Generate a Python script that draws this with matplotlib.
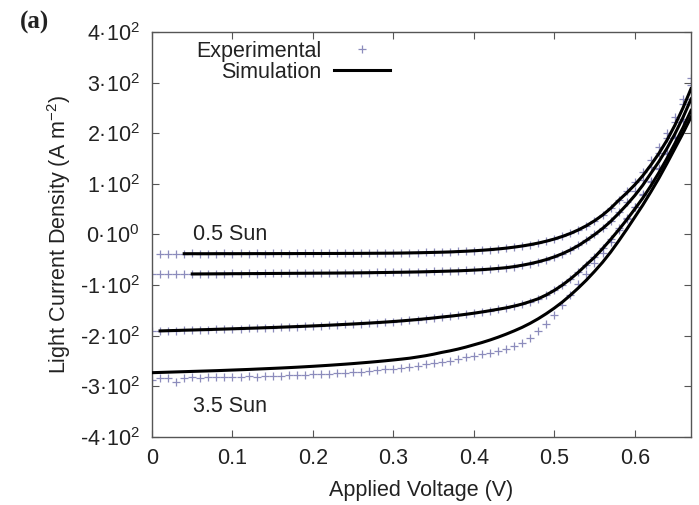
import matplotlib
matplotlib.use('Agg')
import matplotlib.pyplot as plt

# applied voltage grid (V) shared by all series; every series ends at 0.67 V
voltage = [0.00, 0.01, 0.02, 0.03, 0.04, 0.05, 0.06, 0.07, 0.08, 0.09,
           0.10, 0.11, 0.12, 0.13, 0.14, 0.15, 0.16, 0.17, 0.18, 0.19,
           0.20, 0.21, 0.22, 0.23, 0.24, 0.25, 0.26, 0.27, 0.28, 0.29,
           0.30, 0.31, 0.32, 0.33, 0.34, 0.35, 0.36, 0.37, 0.38, 0.39,
           0.40, 0.41, 0.42, 0.43, 0.44, 0.45, 0.46, 0.47, 0.48, 0.49,
           0.50, 0.51, 0.52, 0.53, 0.54, 0.55, 0.56, 0.57, 0.58, 0.59,
           0.60, 0.61, 0.62, 0.63, 0.64, 0.65, 0.66, 0.67]

# simulation, light current density (A m-2)
sim_05sun = [-38.0, -38.0, -38.0, -38.0, -37.9, -37.9, -37.9, -37.9, -37.8, -37.8,
             -37.8, -37.8, -37.7, -37.7, -37.7, -37.6, -37.6, -37.6, -37.5, -37.5,
             -37.4, -37.4, -37.3, -37.2, -37.1, -37.0, -36.9, -36.7, -36.4, -36.1,
             -35.8, -35.4, -35.0, -34.5, -33.8, -33.1, -32.2, -31.2, -30.0, -28.6,
             -27.0, -25.0, -22.8, -20.1, -17.0, -13.3, -9.0, -3.9, 2.0, 9.1,
             17.3, 27.0, 38.3, 51.6, 67.3, 82.0, 98.0, 116.0, 137.0, 160.0,
             186.0, 216.0, 250.0, 288.0]
sim_1sun = [-78.0, -77.9, -77.8, -77.7, -77.6, -77.5, -77.4, -77.3, -77.2, -77.1,
            -77.0, -76.9, -76.8, -76.7, -76.6, -76.5, -76.4, -76.3, -76.2, -76.0,
            -75.9, -75.7, -75.5, -75.3, -75.1, -74.8, -74.6, -74.3, -74.0, -73.6,
            -73.2, -72.8, -72.3, -71.8, -71.2, -70.4, -69.5, -68.4, -67.1, -65.6,
            -63.5, -60.8, -57.7, -54.0, -49.6, -44.3, -38.0, -30.6, -21.9, -11.5,
            -0.4, 11.8, 25.7, 41.6, 58.6, 76.8, 97.3, 120.6, 143.8, 169.8,
            198.8, 231.2, 267.4]
sim_25sun = [-190.5, -190.0, -189.6, -189.1, -188.7, -188.2, -187.8, -187.3, -186.8, -186.3,
             -185.8, -185.3, -184.8, -184.2, -183.7, -183.1, -182.5, -181.9, -181.3, -180.6,
             -179.9, -179.2, -178.4, -177.6, -176.8, -175.9, -175.0, -174.0, -173.0, -171.9,
             -170.7, -169.4, -168.0, -166.5, -164.9, -163.1, -161.5, -159.7, -157.7, -155.5,
             -153.1, -150.5, -147.8, -145.0, -141.5, -137.5, -132.5, -127.0, -119.5, -110.5,
             -100.0, -88.0, -74.5, -59.5, -45.0, -28.0, -10.0, 9.0, 29.0, 50.0,
             72.0, 96.0, 122.0, 150.0, 180.0, 211.0, 245.0]
sim_35sun = [-273.0, -272.5, -272.0, -271.5, -271.0, -270.5, -270.0, -269.5, -269.0, -268.4,
             -267.8, -267.2, -266.6, -265.9, -265.2, -264.5, -263.8, -263.0, -262.2, -261.3,
             -260.4, -259.4, -258.4, -257.3, -256.2, -255.0, -253.7, -252.4, -251.0, -249.5,
             -247.9, -246.2, -244.4, -242.0, -239.5, -236.5, -233.0, -230.0, -226.5, -222.5,
             -218.0, -213.5, -208.5, -203.0, -197.0, -190.5, -183.5, -175.5, -166.5, -156.5,
             -145.5, -133.5, -120.0, -105.5, -90.0, -73.0, -55.0, -35.0, -13.0, 10.0,
             34.0, 58.0, 84.0, 111.0, 140.0, 170.0, 200.0, 232.0]

# experimental points
exp_05sun = [-38.5, -38.0, -38.5, -38.0, -37.5, -38.0, -38.5, -38.0, -37.5,
             -38.0, -37.5, -38.0, -37.5, -38.0, -37.5, -37.5, -38.0, -37.5, -37.5,
             -37.0, -37.5, -37.5, -37.0, -37.5, -37.0, -37.0, -37.0, -36.5, -37.0,
             -36.5, -36.5, -36.0, -36.0, -35.5, -35.0, -35.0, -34.0, -33.5, -33.0,
             -32.0, -31.0, -30.0, -28.5, -27.0, -25.0, -22.5, -20.0, -17.0, -13.0,
             -9.0, -4.0, 2.0, 9.0, 17.5, 27.5, 39.0, 53.0, 69.0, 86.0,
             104.0, 124.0, 147.0, 172.0, 200.0, 232.0, 268.0, 310.0]
exp_1sun = [-78.5, -78.0, -78.5, -78.0, -78.5, -78.0, -77.5, -78.0, -77.5, -77.5,
            -77.0, -77.5, -77.0, -77.5, -77.0, -76.5, -77.0, -76.5, -76.5, -76.5,
            -76.0, -76.5, -76.0, -76.0, -75.5, -76.0, -75.5, -75.5, -75.0, -75.0,
            -74.5, -74.5, -74.0, -74.0, -73.5, -73.0, -72.5, -72.0, -71.5, -71.0,
            -70.0, -69.5, -68.0, -67.0, -65.5, -63.5, -60.5, -57.5, -54.0, -49.5,
            -44.0, -38.0, -30.5, -21.5, -11.0, 0.5, 13.0, 27.5, 45.0, 64.0,
            85.0, 108.0, 133.0, 160.0, 190.0, 222.0, 258.0, 296.0]
exp_25sun = [-191.5, -190.5, -190.0, -190.0, -189.0, -189.0, -188.0, -188.0, -187.5, -187.0,
             -186.0, -186.0, -185.0, -185.0, -184.0, -184.0, -183.0, -182.5, -182.0, -181.0,
             -180.5, -180.0, -179.0, -178.5, -177.5, -177.0, -176.0, -175.0, -174.0, -173.0,
             -172.0, -171.0, -169.5, -168.0, -166.5, -165.0, -163.0, -161.5, -159.5, -157.5,
             -155.5, -153.0, -150.5, -148.0, -145.0, -141.5, -137.5, -132.5, -127.0, -119.5,
             -110.5, -100.0, -88.0, -74.5, -59.5, -44.5, -27.0, -8.0, 12.0, 33.0,
             55.0, 78.0, 103.0, 130.0, 159.0, 190.0, 224.0, 262.0]
exp_35sun = [-287.0, -283.0, -284.0, -292.0, -283.0, -282.0, -283.0, -282.0, -282.0, -281.0,
             -282.0, -281.0, -280.0, -281.0, -280.0, -279.0, -279.0, -278.0, -278.0, -277.0,
             -276.0, -275.0, -275.0, -274.0, -273.0, -272.0, -271.0, -269.0, -268.0, -266.0,
             -265.0, -263.0, -261.0, -259.0, -256.0, -253.0, -251.0, -249.0, -246.0, -243.0,
             -240.0, -237.0, -234.0, -230.0, -226.0, -221.0, -214.0, -205.0, -190.0, -176.0,
             -159.0, -140.0, -119.0, -98.0, -78.0, -57.0, -36.0, -14.0, 8.0, 31.0,
             55.0, 79.0, 105.0, 132.0, 161.0, 192.0, 228.0, 268.0]

x_ticks = [0, 0.1, 0.2, 0.3, 0.4, 0.5, 0.6]
x_ticklabels = ['0', '0.1', '0.2', '0.3', '0.4', '0.5', '0.6']
y_ticks = [-400, -300, -200, -100, 0, 100, 200, 300, 400]
y_ticklabels = ['-4·10$^{2}$', '-3·10$^{2}$', '-2·10$^{2}$', '-1·10$^{2}$', '0·10$^{0}$',
                '1·10$^{2}$', '2·10$^{2}$', '3·10$^{2}$', '4·10$^{2}$']

plt.rcParams['font.family'] = ['Liberation Sans', 'DejaVu Sans']
plt.rcParams['mathtext.fontset'] = 'custom'
plt.rcParams['mathtext.rm'] = 'Liberation Sans'
plt.rcParams['mathtext.it'] = 'Liberation Sans:italic'

text_color = '#222222'
axis_color = '#555555'
exp_color = '#7070ac'
fs = 15.5

fig = plt.figure(figsize=(6.99, 5.05), dpi=100)
ax = fig.add_axes([0.2175, 0.1347, 0.7711, 0.8020])

# experimental markers first, simulation lines on top
h_exp = None
for ys in [exp_05sun, exp_1sun, exp_25sun, exp_35sun]:
    h, = ax.plot(voltage[-len(ys):], ys, ls='none', marker='+', ms=6, mew=0.9,
                 color=exp_color, alpha=0.8, zorder=2)
    if h_exp is None:
        h_exp = h
h_sim = None
for ys in [sim_05sun, sim_1sun, sim_25sun, sim_35sun]:
    h, = ax.plot(voltage[-len(ys):], ys, color='black', lw=2.2, zorder=3)
    if h_sim is None:
        h_sim = h

ax.set_xlim(0, 0.67)
ax.set_ylim(-400, 400)
ax.set_xticks(x_ticks)
ax.set_xticklabels(x_ticklabels)
ax.set_yticks(y_ticks)
ax.set_yticklabels(y_ticklabels)
ax.tick_params(direction='in', top=True, right=True, length=5, width=0.8,
               color=axis_color, labelsize=fs, labelcolor=text_color)
ax.tick_params(axis='x', pad=8)
ax.tick_params(axis='y', pad=9)
for sp in ax.spines.values():
    sp.set_color(axis_color)
    sp.set_linewidth(1.0)

ax.set_xlabel('Applied Voltage (V)', fontsize=fs, color=text_color, labelpad=8)
ax.set_ylabel('Light Current Density (A m$^{-2}$)', fontsize=fs, color=text_color, labelpad=5)

ax.text(0.051, 0, '0.5 Sun', fontsize=fs, color=text_color, va='center')
ax.text(0.051, -340, '3.5 Sun', fontsize=fs, color=text_color, va='center')

ax.legend([h_exp, h_sim], ['Experimental', 'Simulation'], markerfirst=False, frameon=False,
          loc='upper left', bbox_to_anchor=(0.0615, 1.005), borderpad=0, handlelength=2.6,
          handletextpad=0.6, labelspacing=0.0, numpoints=1, fontsize=fs,
          labelcolor=text_color)

fig.text(20 / 699, 1 - 22 / 505, '(a)', family='Liberation Serif', weight='bold',
         fontsize=18, ha='left', va='center', color=text_color)

fig.savefig('out.png', dpi=100)
